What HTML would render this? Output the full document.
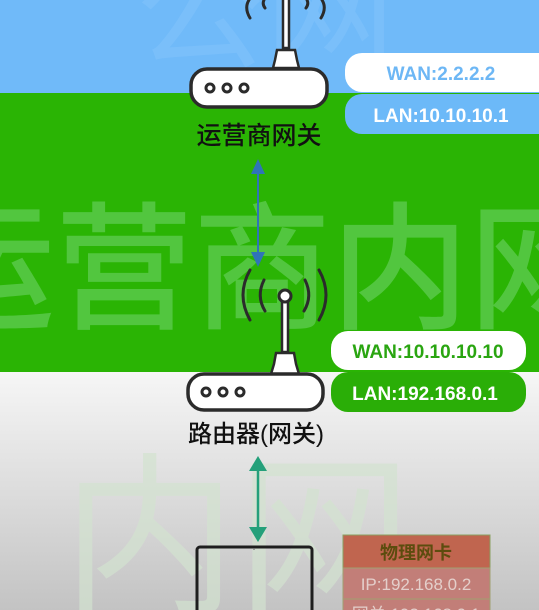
<!DOCTYPE html>
<html><head><meta charset="utf-8"><style>
html,body{margin:0;padding:0;width:539px;height:610px;overflow:hidden}
svg{display:block}
text{font-family:"Liberation Sans","Noto Sans CJK SC",sans-serif}
</style></head><body>
<svg width="539" height="610" viewBox="0 0 539 610" xmlns="http://www.w3.org/2000/svg">
<defs>
<linearGradient id="g" x1="0" y1="0" x2="0" y2="1">
<stop offset="0" stop-color="#f6f6f6"/><stop offset="1" stop-color="#c3c3c3"/>
</linearGradient>
</defs>
<rect x="0" y="0" width="539" height="93" fill="#70baf9"/>
<rect x="0" y="93" width="539" height="279" fill="#2ab404"/>
<rect x="0" y="372" width="539" height="238" fill="url(#g)"/>
<!-- watermarks -->
<text x="135" y="58" font-size="130" fill="#7abffa" font-family="Noto Sans CJK SC">公网</text>
<text x="-83" y="318" font-size="138" fill="#52c63f" font-family="Noto Sans CJK SC" font-weight="500">运营商内网</text>
<text x="62" y="600" font-size="175" fill="#d3e3d0" font-family="Noto Sans CJK SC" opacity="0.7">内网</text>

<!-- top router -->
<g fill="none" stroke="#2b2b2b" stroke-width="3" stroke-linecap="round">
<path d="M249 0 Q244 8 250 18"/><path d="M264 0 Q262 4 265 8"/>
<path d="M322 0 Q327 8 321 18"/><path d="M307 0 Q309 4 306 8"/>
</g>
<rect x="283" y="-2" width="6" height="50" fill="#fff" stroke="#2b2b2b" stroke-width="2.5"/>
<path d="M277 50 L295 50 L297 60 L299 68 L273 68 L275 60 Z" fill="#fff" stroke="#2b2b2b" stroke-width="2.5"/>
<rect x="191" y="69" width="136" height="38" rx="16" fill="#fff" stroke="#2b2b2b" stroke-width="3.5"/>
<g fill="none" stroke="#2b2b2b" stroke-width="3"><circle cx="210" cy="88" r="4"/><circle cx="227" cy="88" r="4"/><circle cx="244" cy="88" r="4"/></g>
<text x="259" y="144" font-size="25" font-weight="500" text-anchor="middle" fill="#111" font-family="Noto Sans CJK SC">运营商网关</text>
<rect x="345" y="53" width="210" height="39" rx="17" fill="#fff"/>
<text x="441" y="80" font-size="19" font-weight="bold" text-anchor="middle" fill="#6db7f5">WAN:2.2.2.2</text>
<rect x="345" y="94" width="210" height="40" rx="17" fill="#6cb9f8"/>
<text x="441" y="122" font-size="19" font-weight="bold" text-anchor="middle" fill="#fff">LAN:10.10.10.1</text>

<!-- blue arrow -->
<line x1="258" y1="168" x2="258" y2="258" stroke="#2f74b8" stroke-width="2"/>
<path d="M258 159 L251 174 L265 174 Z" fill="#2f74b8"/>
<path d="M258 267 L251 252 L265 252 Z" fill="#2f74b8"/>

<!-- second router -->
<g fill="none" stroke="#2b2b2b" stroke-width="3" stroke-linecap="round">
<path d="M250 270 Q236 295 250 320"/><path d="M264 280 Q256 296 265 311"/>
<path d="M319 270 Q333 295 319 320"/><path d="M305 280 Q313 296 304 311"/>
</g>
<rect x="282" y="302" width="6" height="50" fill="#fff" stroke="#2b2b2b" stroke-width="2.5"/>
<circle cx="285" cy="296" r="6" fill="#fff" stroke="#2b2b2b" stroke-width="3"/>
<path d="M276 353 L294 353 L296 364 L299 374 L271 374 L274 364 Z" fill="#fff" stroke="#2b2b2b" stroke-width="2.5"/>
<rect x="188" y="374" width="135" height="36" rx="16" fill="#fff" stroke="#2b2b2b" stroke-width="3.5"/>
<g fill="none" stroke="#2b2b2b" stroke-width="3"><circle cx="206" cy="392" r="4"/><circle cx="223" cy="392" r="4"/><circle cx="240" cy="392" r="4"/></g>
<rect x="331" y="331" width="195" height="39" rx="17" fill="#fff"/>
<text x="428" y="358" font-size="19" font-weight="bold" text-anchor="middle" fill="#2aa511">WAN:10.10.10.10</text>
<rect x="331" y="372" width="195" height="40" rx="17" fill="#2aae07"/>
<text x="425" y="400" font-size="19" font-weight="bold" text-anchor="middle" fill="#fff">LAN:192.168.0.1</text>
<text x="256" y="442" font-size="24" font-weight="500" text-anchor="middle" fill="#111" font-family="Noto Sans CJK SC">路由器(网关)</text>

<!-- green arrow -->
<line x1="258" y1="466" x2="258" y2="532" stroke="#24a07a" stroke-width="2.5"/>
<path d="M258 456 L249 471 L267 471 Z" fill="#24a07a"/>
<path d="M258 542 L249 527 L267 527 Z" fill="#24a07a"/>

<!-- laptop -->
<rect x="197" y="547" width="115" height="80" rx="3" fill="none" stroke="#1e1e1e" stroke-width="3"/>
<circle cx="254" cy="549" r="1" fill="#888"/>

<!-- card -->
<rect x="343" y="535" width="147" height="33" fill="#c0654f" stroke="#8aa060" stroke-width="1"/>
<text x="416" y="559" font-size="18" font-weight="bold" text-anchor="middle" fill="#5c4c0e" font-family="Noto Sans CJK SC">物理网卡</text>
<rect x="343" y="568" width="147" height="31" fill="#c27e78" stroke="#a0a070" stroke-width="1"/>
<text x="416" y="590" font-size="17" text-anchor="middle" fill="#e4cfcb">IP:192.168.0.2</text>
<rect x="343" y="599" width="147" height="20" fill="#c27e78" stroke="#a0a070" stroke-width="1"/>
<text x="416" y="620" font-size="17" text-anchor="middle" fill="#e4cfcb" font-family="Noto Sans CJK SC">网关:192.168.0.1</text>
</svg>
</body></html>
